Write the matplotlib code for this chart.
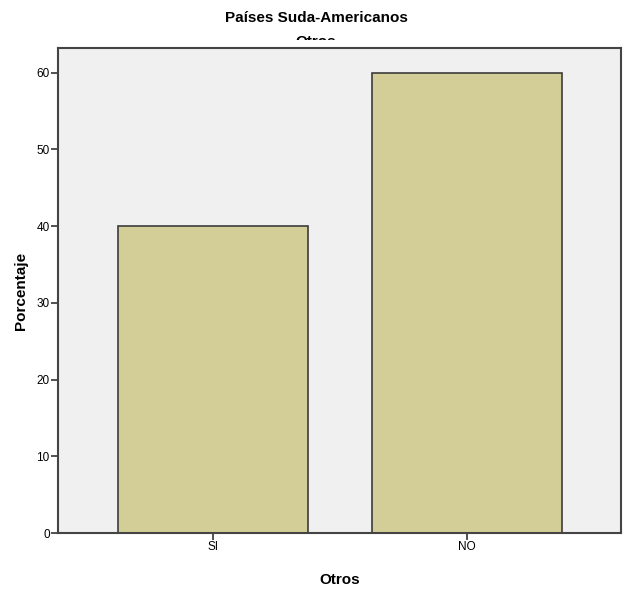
import matplotlib
matplotlib.use("Agg")
import matplotlib.pyplot as plt
from matplotlib.patches import Rectangle

plt.rcParams['font.family'] = ['Liberation Sans', 'DejaVu Sans']

categories = ['SI', 'NO']
porcentaje = [40, 60]
yticks = [0, 10, 20, 30, 40, 50, 60]

fig = plt.figure(figsize=(6.32, 5.89), dpi=100)
ax = fig.add_axes([58 / 632, 56 / 589, 563 / 632, 485 / 589])
ax.set_facecolor('#f0f0f0')

x = range(len(categories))
ax.bar(x, porcentaje, width=0.748, color='#d3ce97', edgecolor='#3c3c3c',
       linewidth=1.2, zorder=2)

ax.set_xlim(-0.61, 1.606)
ax.set_ylim(0, 63.2)
ax.set_xticks(list(x))
ax.set_xticklabels(categories)
ax.set_yticks(yticks)
ax.tick_params(axis='both', length=5, width=1.2, color='#333333',
               labelsize=8.5, pad=1)

for s in ax.spines.values():
    s.set_color('#444444')
    s.set_linewidth(1.5)

ax.set_xlabel('Otros', fontsize=11, fontweight='bold', labelpad=14)
ax.set_ylabel('Porcentaje', fontsize=11, fontweight='bold', labelpad=6)

fig.text(0.5, 1 - 18 / 589, 'Países Suda-Americanos', ha='center', va='center',
         fontsize=11, fontweight='bold')
# subtitle is half hidden in the original
sub = fig.text(0.5, 1 - 42 / 589, 'Otros', ha='center', va='center',
               fontsize=11, fontweight='bold')
clip = Rectangle((0, 1 - 40 / 589), 1, 40 / 589, transform=fig.transFigure)
sub.set_clip_path(clip)

fig.savefig('out.png', dpi=100)
